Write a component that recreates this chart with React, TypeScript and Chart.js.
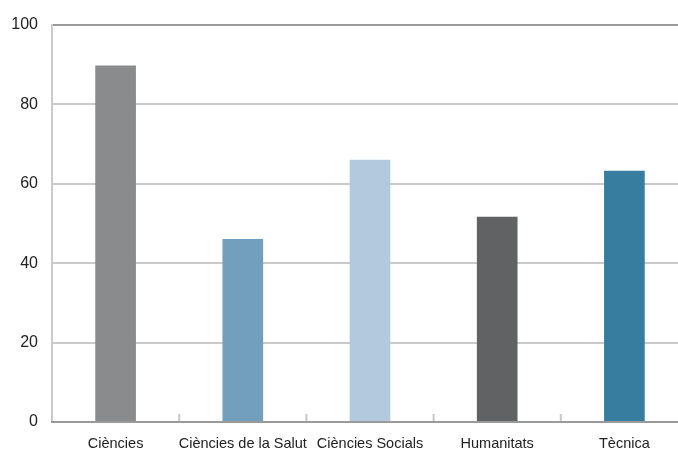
import React, { useEffect, useRef } from "react";
import { Chart, registerables } from "chart.js";

Chart.register(...registerables);

const categories = ["Ciències", "Ciències de la Salut", "Ciències Socials", "Humanitats", "Tècnica"];
const values = [89.7, 46.0, 66.0, 51.6, 63.2];
const barColors = ["#8a8b8d", "#739fbf", "#b3c9dd", "#616264", "#377d9f"];
const yTicks = [0, 20, 40, 60, 80, 100];

const FONT = "'Liberation Sans', Arial, sans-serif";

const categoryTicks = {
  id: "categoryTicks",
  afterDatasetsDraw(chart: any) {
    const x = chart.scales.x;
    const y = chart.scales.y;
    const ctx = chart.ctx;
    const base = y.getPixelForValue(0);
    const step = x.getPixelForValue(1) - x.getPixelForValue(0);
    ctx.save();
    ctx.strokeStyle = "#c8c8c8";
    ctx.lineWidth = 2;
    for (let i = 0; i <= categories.length; i++) {
      const px = x.getPixelForValue(0) - step / 2 + i * step;
      ctx.beginPath();
      ctx.moveTo(px, base);
      ctx.lineTo(px, base - 8);
      ctx.stroke();
    }
    ctx.strokeStyle = "#9a9a9a";
    ctx.lineWidth = 2;
    ctx.beginPath();
    ctx.moveTo(chart.chartArea.left - 1, base);
    ctx.lineTo(chart.chartArea.right, base);
    ctx.stroke();
    ctx.restore();
  },
};

export default function App() {
  const ref = useRef<HTMLCanvasElement | null>(null);
  useEffect(() => {
    document.body.style.margin = "0";
    document.body.style.overflow = "hidden";
    if (!ref.current) return;
    const chart = new Chart(ref.current, {
      type: "bar",
      data: {
        labels: categories,
        datasets: [
          {
            data: values,
            backgroundColor: barColors,
            barThickness: 40,
          },
        ],
      },
      plugins: [categoryTicks],
      options: {
        animation: false,
        responsive: false,
        maintainAspectRatio: false,
        layout: { padding: { top: 25, right: 2, left: 0, bottom: 0 } },
        plugins: { legend: { display: false }, tooltip: { enabled: false } },
        scales: {
          x: {
            grid: { display: false, drawTicks: false },
            border: { display: false },
            ticks: {
              color: "#222",
              font: { family: FONT, size: 14.5 },
              padding: 13,
              maxRotation: 0,
              autoSkip: false,
            },
            afterFit: (s: any) => {
              s.height = 28;
            },
          },
          y: {
            min: 0,
            max: 100,
            afterBuildTicks: (s: any) => {
              s.ticks = yTicks.map((v) => ({ value: v }));
            },
            grid: {
              color: (c: any) => (c.tick && c.tick.value === 100 ? "#9a9a9a" : c.tick && c.tick.value === 0 ? "rgba(0,0,0,0)" : "#cacaca"),
              lineWidth: 2,
              drawTicks: false,
            },
            border: { display: true, color: "#cacaca", width: 2 },
            ticks: {
              color: "#222",
              font: { family: FONT, size: 16 },
              padding: 14,
            },
            afterFit: (s: any) => {
              s.width = 52;
            },
          },
        },
      },
    });
    return () => chart.destroy();
  }, []);
  return (
    <div style={{ position: "absolute", left: 0, top: 0, width: 690, height: 450 }}>
      <canvas ref={ref} width={690} height={450} style={{ width: 690, height: 450 }} />
    </div>
  );
}
